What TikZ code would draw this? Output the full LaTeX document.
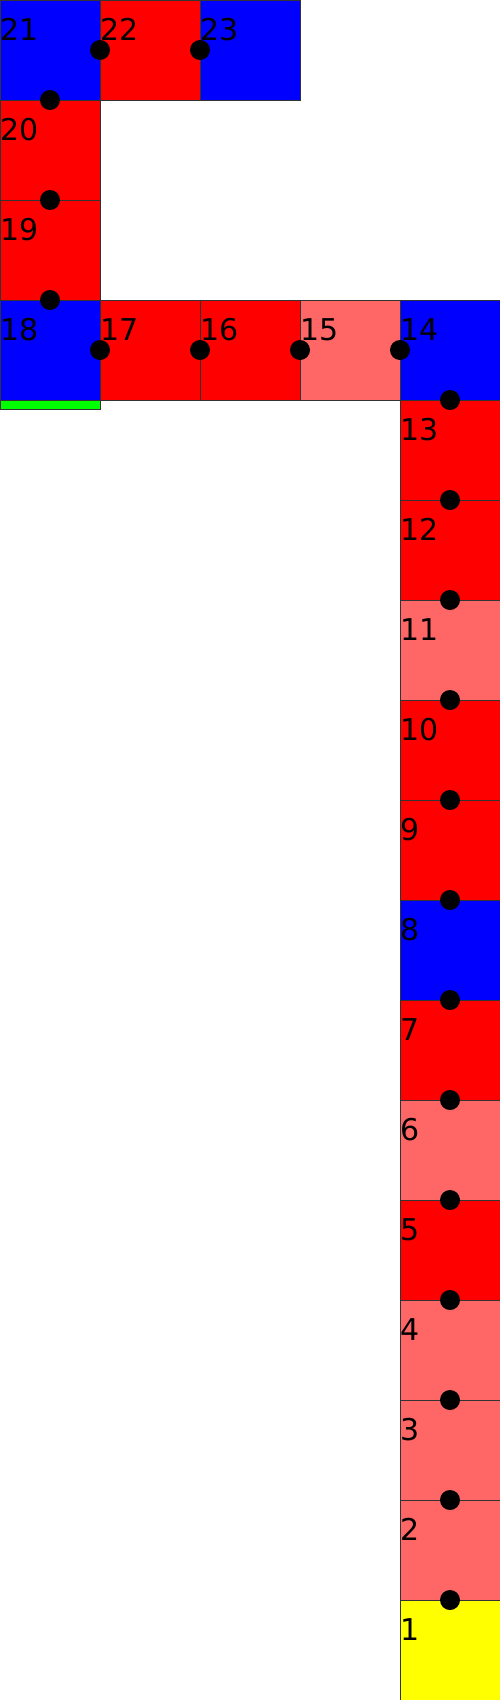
\documentclass[tikz,border=0pt]{standalone}
\usepackage{fontspec}
\setmainfont{DejaVu Sans}
\definecolor{cred}{HTML}{FF0000}
\definecolor{cblue}{HTML}{0000FF}
\definecolor{clight}{HTML}{FF6666}
\definecolor{cyellow}{HTML}{FFFF00}
\definecolor{cgreen}{HTML}{00FF00}
\definecolor{edge}{HTML}{333333}
\begin{document}
\begin{tikzpicture}[x=1pt,y=-1pt,
  cell/.style={draw=edge, line width=0.8pt, minimum size=100pt, inner sep=0pt, outer sep=0pt},
  lab/.style={anchor=base west, inner sep=0pt, font=\fontsize{30}{36}\selectfont},
  dot/.style={circle, fill=black, minimum size=20pt, inner sep=0pt}]
\useasboundingbox (0,0) rectangle (500,1700);
\fill[white] (0,0) rectangle (500,1700);
\foreach \n/\x/\y/\c in {1/450/1650/cyellow, 2/450/1550/clight, 3/450/1450/clight, 4/450/1350/clight,
  5/450/1250/cred, 6/450/1150/clight, 7/450/1050/cred, 8/450/950/cblue, 9/450/850/cred,
  10/450/750/cred, 11/450/650/clight, 12/450/550/cred, 13/450/450/cred, 14/450/350/cblue,
  15/350/350/clight, 16/250/350/cred, 17/150/350/cred, 18/50/350/cblue, 19/50/250/cred,
  20/50/150/cred, 21/50/50/cblue, 22/150/50/cred, 23/250/50/cblue}{
  \node[cell, fill=\c] (c\n) at (\x,\y) {};
}
\node[draw=edge, line width=0.8pt, fill=cgreen, minimum width=100pt, minimum height=9pt, inner sep=0pt, outer sep=0pt, anchor=north west] (bar) at (c18.south west) {};
\foreach \a [evaluate=\a as \b using int(\a+1)] in {1,...,22}{
  \path (c\a) -- (c\b) node[midway, dot] (d\a) {};
}
\foreach \n in {1,...,23}{
  \node[lab] (l\n) at ([yshift=-40pt]c\n.north west) {\n};
}
\end{tikzpicture}
\end{document}
